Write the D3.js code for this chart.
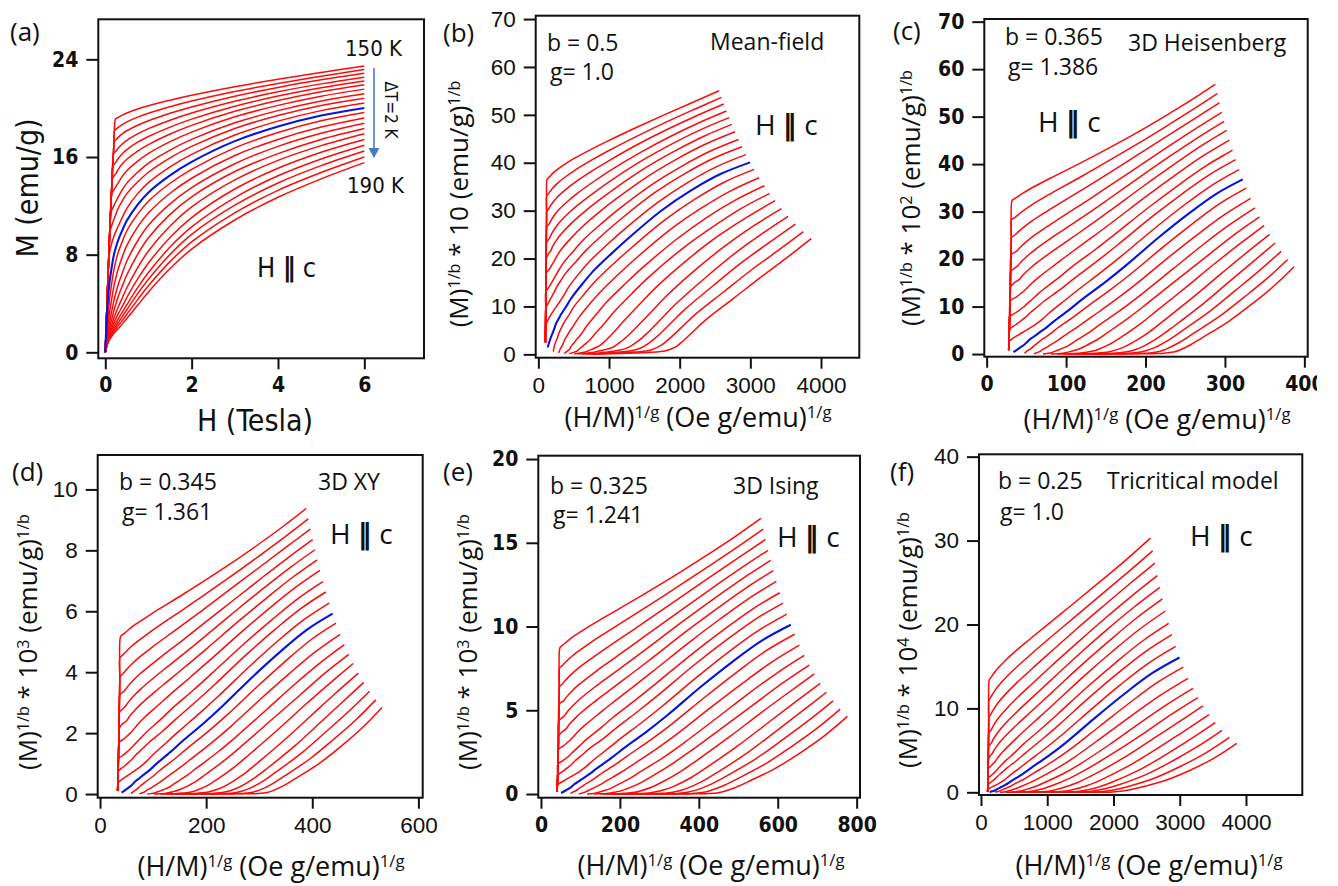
<!DOCTYPE html>
<html>
<head>
<meta charset="utf-8">
<script src="https://cdn.jsdelivr.net/npm/d3@7"></script>
<style>
  body { margin: 0; background: #fff; }
  text { white-space: pre; }
</style>
</head>
<body>
<svg id="fig" width="1338" height="886"></svg>
<script>
// isotherms M(H), 150 K .. 190 K in 2 K steps, H along c
const temps = [150, 152, 154, 156, 158, 160, 162, 164, 166, 168, 170,
               172, 174, 176, 178, 180, 182, 184, 186, 188, 190];
const fieldT = [0, 0.05, 0.1, 0.15, 0.2, 0.25, 0.3, 0.4, 0.5, 0.75, 1, 1.5, 2, 3, 4, 5, 6];
const magnet = [
  [0, 5.0, 9.6, 13.6, 17.15, 19.15, 19.25, 19.45, 19.61, 19.93, 20.2, 20.65, 21.05, 21.75, 22.37, 22.93, 23.46],
  [0, 5.0, 9.6, 13.6, 17.15, 18.28, 18.43, 18.68, 18.88, 19.27, 19.59, 20.12, 20.58, 21.36, 22.03, 22.62, 23.16],
  [0, 5.0, 9.6, 13.6, 17.15, 17.42, 17.61, 17.91, 18.15, 18.60, 18.97, 19.58, 20.10, 20.98, 21.70, 22.32, 22.86],
  [0, 5.0, 9.6, 13.6, 16.35, 16.49, 16.73, 17.09, 17.37, 17.89, 18.32, 19.01, 19.60, 20.56, 21.34, 21.99, 22.54],
  [0, 5.0, 9.6, 13.6, 15.38, 15.60, 15.88, 16.29, 16.61, 17.21, 17.68, 18.45, 19.10, 20.16, 20.99, 21.67, 22.23],
  [0, 5.0, 9.6, 13.6, 14.45, 14.66, 14.99, 15.46, 15.82, 16.49, 17.02, 17.88, 18.59, 19.74, 20.62, 21.34, 21.91],
  [0, 5.0, 9.6, 13.05, 13.30, 13.60, 13.88, 14.45, 14.88, 15.66, 16.29, 17.26, 18.04, 19.29, 20.23, 20.98, 21.56],
  [0, 5.0, 9.6, 11.65, 12.02, 12.38, 12.74, 13.35, 13.86, 14.75, 15.50, 16.57, 17.44, 18.80, 19.80, 20.59, 21.18],
  [0, 5.0, 9.6, 10.40, 10.90, 11.35, 11.80, 12.45, 13.00, 13.95, 14.75, 15.93, 16.87, 18.34, 19.40, 20.22, 20.82],
  [0, 4.85, 8.2, 8.95, 9.50, 9.95, 10.35, 11.10, 11.80, 13.00, 13.90, 15.20, 16.22, 17.80, 18.94, 19.80, 20.42],
  [0, 3.8, 5.8, 7.0, 8.0, 8.65, 9.2, 10.05, 10.8, 12.1, 13.1, 14.5, 15.6, 17.3, 18.5, 19.4, 20.02],
  [0, 2.36, 4.38, 5.69, 6.77, 7.55, 8.19, 9.13, 9.96, 11.32, 12.37, 13.85, 14.99, 16.75, 18.01, 18.97, 19.65],
  [0, 1.74, 3.25, 4.40, 5.42, 6.19, 6.85, 7.88, 8.76, 10.28, 11.41, 13.03, 14.26, 16.12, 17.44, 18.45, 19.20],
  [0, 1.36, 2.48, 3.37, 4.25, 4.94, 5.55, 6.55, 7.48, 9.14, 10.41, 12.16, 13.49, 15.45, 16.87, 17.94, 18.76],
  [0, 1.14, 2.01, 2.72, 3.43, 4.02, 4.57, 5.49, 6.35, 8.03, 9.38, 11.30, 12.74, 14.81, 16.28, 17.44, 18.33],
  [0, 0.99, 1.70, 2.25, 2.81, 3.28, 3.71, 4.51, 5.29, 6.94, 8.30, 10.35, 11.91, 14.12, 15.72, 16.93, 17.91],
  [0, 0.89, 1.51, 1.97, 2.41, 2.80, 3.15, 3.81, 4.50, 6.01, 7.32, 9.40, 11.04, 13.38, 15.08, 16.39, 17.44],
  [0, 0.81, 1.35, 1.74, 2.12, 2.43, 2.74, 3.31, 3.90, 5.30, 6.54, 8.62, 10.27, 12.67, 14.46, 15.84, 16.97],
  [0, 0.74, 1.24, 1.57, 1.90, 2.17, 2.44, 2.96, 3.49, 4.81, 5.99, 8.02, 9.66, 12.05, 13.87, 15.29, 16.49],
  [0, 0.69, 1.14, 1.43, 1.72, 1.95, 2.19, 2.64, 3.12, 4.32, 5.46, 7.43, 9.05, 11.43, 13.27, 14.73, 16.00],
  [0, 0.65, 1.05, 1.30, 1.55, 1.75, 1.95, 2.35, 2.77, 3.87, 4.95, 6.86, 8.46, 10.84, 12.70, 14.21, 15.54]
];
// knee where the low-T curves leave the demagnetisation line (150..168 K)
const kneeH = [0.231, 0.216, 0.202, 0.187, 0.172, 0.157, 0.140, 0.122, 0.103, 0.078];
const kneeM = [19.08, 18.19, 17.26, 16.25, 15.23, 14.11, 12.88, 11.45, 9.80, 7.60];
const blueT = 170;

// modified Arrott plots (b)..(f)
const modelNames = ['Mean-field', '3D Heisenberg', '3D XY', '3D Ising', 'Tricritical model'];
const betaVals = [0.5, 0.365, 0.345, 0.325, 0.25];
const gammaVals = [1.0, 1.386, 1.316, 1.241, 1.0];   // used for the x transform
const gammaLabels = ['1.0', '1.386', '1.361', '1.241', '1.0'];
const betaLabels = ['0.5', '0.365', '0.345', '0.325', '0.25'];
const yPowers = ['', '2', '3', '3', '4'];
const yDivisors = [10, 100, 1000, 1000, 10000];

const condFont = "'DejaVu Sans Condensed', 'DejaVu Sans', sans-serif";
const plainFont = "'Liberation Sans', Arial, sans-serif";
const annFont = "'Open Sans', 'Noto Sans', sans-serif";

const panels = [
  { key: 'a', box: [98.3, 19.3, 424, 358.3], xd: [-0.162, 7.382], yd: [-0.49, 27.28],
    xt: [0, 2, 4, 6], yt: [0, 8, 16, 24], bold: true },
  { key: 'b', box: [535.7, 15.7, 859.3, 357.7], xd: [-37.6, 4542], yd: [-0.70, 70.7],
    xt: [0, 1000, 2000, 3000, 4000], yt: [0, 10, 20, 30, 40, 50, 60, 70], bold: false, m: 0 },
  { key: 'c', box: [984.3, 19, 1307.7, 356.7], xd: [-2.95, 404.2], yd: [-0.56, 70.56],
    xt: [0, 100, 200, 300, 400], yt: [0, 10, 20, 30, 40, 50, 60, 70], bold: true, m: 1 },
  { key: 'd', box: [97.7, 455, 422.7, 797.7], xd: [-4.4, 608.1], yd: [-0.12, 11.13],
    xt: [0, 200, 400, 600], yt: [0, 2, 4, 6, 8, 10], bold: false, m: 2 },
  { key: 'e', box: [538.3, 455.7, 860, 797.7], xd: [-6.8, 808.5], yd: [-0.22, 20.2],
    xt: [0, 200, 400, 600, 800], yt: [0, 5, 10, 15, 20], bold: true, m: 3 },
  { key: 'f', box: [979, 454.3, 1302.3, 795], xd: [-30, 4850], yd: [-0.32, 40.28],
    xt: [0, 1000, 2000, 3000, 4000], yt: [0, 10, 20, 30, 40], bold: false, m: 4 }
];

// text placement: panel label, annotation anchors, axis title anchors
const placing = {
  a: { lab: [10, 41], xt: [255, 431], yt: [38, 188] },
  b: { lab: [443, 42], bg: [[547, 51], [550, 80]], name: [710, 50], hc: [755, 135], xt: [698, 427], yt: [468, 204] },
  c: { lab: [893, 40], bg: [[1005, 45], [1008, 75]], name: [1128, 51], hc: [1038, 132], xt: [1157, 429], yt: [920, 198] },
  d: { lab: [12, 481], bg: [[119, 490], [122, 520]], name: [318, 490], hc: [330, 544], xt: [271, 876], yt: [37, 642] },
  e: { lab: [443, 481], bg: [[550, 494], [553, 523]], name: [733, 494], hc: [777, 547], xt: [711, 875], yt: [477, 642] },
  f: { lab: [890, 481], bg: [[998, 489], [1000, 520]], name: [1107, 489], hc: [1190, 546], xt: [1149, 875], yt: [917, 640] }
};

const svg = d3.select('#fig');

function richText(parent, parts, size, family) {
  const t = parent.append('text').attr('font-size', size).attr('font-family', family).attr('fill', '#111');
  let up = false;
  const shift = size * 0.32;
  parts.forEach(([s, sup]) => {
    const ts = t.append('tspan').text(s);
    if (sup) {
      ts.attr('font-size', size * 0.62);
      if (!up) { ts.attr('dy', -shift); up = true; }
    } else if (up) {
      ts.attr('dy', shift); up = false;
    }
  });
  return t;
}

function hParallelC(parent, x, y, size, family) {
  const t = parent.append('text').attr('x', x).attr('y', y)
    .attr('font-family', family).attr('font-size', size).attr('fill', '#111');
  t.append('tspan').text('H ');
  t.append('tspan').attr('font-weight', 'bold').text('\u2225');
  t.append('tspan').text(' c');
  return t;
}

function curvePoints(i) {
  const pts = fieldT.map((h, j) => ({ h: h, m: magnet[i][j] }));
  if (i < kneeH.length) pts.push({ h: kneeH[i], m: kneeM[i] });
  return pts.sort((p, q) => p.h - q.h);
}

panels.forEach(p => {
  const [l, t, r, b] = p.box;
  const x = d3.scaleLinear().domain(p.xd).range([l, r]);
  const y = d3.scaleLinear().domain(p.yd).range([b, t]);
  const g = svg.append('g').attr('class', 'panel-' + p.key);
  const tickFont = p.bold ? condFont : plainFont;

  g.append('clipPath').attr('id', 'clip-' + p.key)
    .append('rect').attr('x', l).attr('y', t).attr('width', r - l).attr('height', b - t);

  // curves
  const line = d3.line().curve(d3.curveCatmullRom.alpha(0.5))
    .x(d => x(d[0])).y(d => y(d[1]));
  const project = p.key === 'a'
    ? (d => [d.h, d.m])
    : (d => [Math.pow(d.h * 1e4 / d.m, 1 / gammaVals[p.m]), Math.pow(d.m, 1 / betaVals[p.m]) / yDivisors[p.m]]);

  const order = temps.map((T, i) => i).filter(i => temps[i] !== blueT)
    .concat(temps.indexOf(blueT));
  const cg = g.append('g').attr('clip-path', `url(#clip-${p.key})`);
  order.forEach(i => {
    let pts = curvePoints(i);
    if (p.key !== 'a') pts = pts.filter(d => d.h > 0);
    const isBlue = temps[i] === blueT;
    cg.append('path')
      .attr('d', line(pts.map(project)))
      .attr('fill', 'none')
      .attr('stroke', isBlue ? '#0a14d8' : '#ff0a0a')
      .attr('stroke-width', isBlue ? 2.1 : 1.5);
  });

  // axes
  const ax = g.append('g').attr('transform', `translate(0,${b})`)
    .call(d3.axisBottom(x).tickValues(p.xt).tickSize(11).tickPadding(8).tickFormat(d3.format('d')));
  const ay = g.append('g').attr('transform', `translate(${l},0)`)
    .call(d3.axisLeft(y).tickValues(p.yt).tickSize(12).tickPadding(8).tickFormat(d3.format('d')));
  [ax, ay].forEach(a => {
    a.select('.domain').remove();
    a.selectAll('line').attr('stroke', '#111').attr('stroke-width', 2);
    a.selectAll('text').attr('font-family', tickFont)
      .attr('font-size', p.bold ? 21 : 22.5)
      .attr('font-weight', p.bold ? 'bold' : 'normal')
      .attr('fill', '#111');
  });

  g.append('rect').attr('x', l).attr('y', t).attr('width', r - l).attr('height', b - t)
    .attr('fill', 'none').attr('stroke', '#111').attr('stroke-width', 2);

  const pl = placing[p.key];
  g.append('text').attr('x', pl.lab[0]).attr('y', pl.lab[1])
    .attr('font-family', annFont).attr('font-size', 26).attr('fill', '#111')
    .text(`(${p.key})`);

  if (p.key === 'a') {
    g.append('text').attr('x', pl.xt[0]).attr('y', pl.xt[1]).attr('text-anchor', 'middle')
      .attr('font-family', condFont).attr('font-size', 30).attr('fill', '#111').text('H (Tesla)');
    g.append('text').attr('transform', `translate(${pl.yt[0]},${pl.yt[1]}) rotate(-90)`)
      .attr('text-anchor', 'middle')
      .attr('font-family', condFont).attr('font-size', 30).attr('fill', '#111').text('M (emu/g)');
    g.append('text').attr('x', 345).attr('y', 56).attr('font-family', condFont)
      .attr('font-size', 22).attr('fill', '#111').text(temps[0] + ' K');
    g.append('text').attr('x', 347).attr('y', 193).attr('font-family', condFont)
      .attr('font-size', 22).attr('fill', '#111').text(temps[temps.length - 1] + ' K');
    hParallelC(g, 257, 277, 27, condFont);
    // temperature-step arrow
    g.append('line').attr('x1', 374).attr('y1', 68).attr('x2', 374).attr('y2', 150)
      .attr('stroke', '#4a78c8').attr('stroke-width', 1.6);
    g.append('path').attr('d', 'M368.5,148 L379.5,148 L374,158 Z').attr('fill', '#4a78c8');
    g.append('text').attr('transform', 'translate(385,110) rotate(90)')
      .attr('text-anchor', 'middle').attr('font-family', condFont)
      .attr('font-size', 17).attr('fill', '#111').text('\u0394T=2 K');
    return;
  }

  const m = p.m;
  g.append('text').attr('x', pl.bg[0][0]).attr('y', pl.bg[0][1])
    .attr('font-family', annFont).attr('font-size', 23).attr('fill', '#111')
    .text('b = ' + betaLabels[m]);
  g.append('text').attr('x', pl.bg[1][0]).attr('y', pl.bg[1][1])
    .attr('font-family', annFont).attr('font-size', 23).attr('fill', '#111')
    .text('g= ' + gammaLabels[m]);
  g.append('text').attr('x', pl.name[0]).attr('y', pl.name[1])
    .attr('font-family', annFont).attr('font-size', 23).attr('fill', '#111')
    .text(modelNames[m]);
  hParallelC(g, pl.hc[0], pl.hc[1], 28, annFont);

  richText(g, [['(H/M)'], ['1/g', true], [' (Oe g/emu)'], ['1/g', true]], 27, annFont)
    .attr('x', pl.xt[0]).attr('y', pl.xt[1]).attr('text-anchor', 'middle');

  const yParts = yPowers[m]
    ? [['(M)'], ['1/b', true], [' * 10'], [yPowers[m], true], [' (emu/g)'], ['1/b', true]]
    : [['(M)'], ['1/b', true], [' * 10 (emu/g)'], ['1/b', true]];
  richText(g, yParts, 26, annFont)
    .attr('text-anchor', 'middle')
    .attr('transform', `translate(${pl.yt[0]},${pl.yt[1]}) rotate(-90)`);
});

// the source figure is cropped just past the last tick label of (c)
svg.append('rect').attr('x', 1317).attr('y', 362).attr('width', 21).attr('height', 50).attr('fill', '#fff');
</script>
</body>
</html>
